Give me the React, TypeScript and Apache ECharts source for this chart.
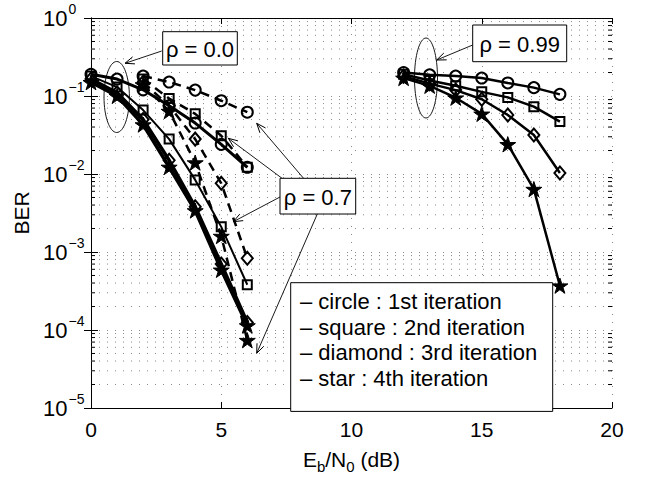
import React, { useEffect, useRef } from "react";
import * as echarts from "echarts";

// ---- data ----
const snrLow = [0, 1, 2, 3, 4, 5, 6];
const snrMid = [2, 3, 4, 5, 6];
const snrHigh = [12, 13, 14, 15, 16, 17, 18];

// rho = 0.0 (solid)
const r0Circle = [0.19, 0.165, 0.12, 0.075, 0.045, 0.024, 0.0122];
const r0Square = [0.18, 0.13, 0.066, 0.028, 0.0084, 0.0021, 0.00038];
const r0Diamond = [0.165, 0.11, 0.05, 0.015, 0.0038, 0.0007, 0.000125];
const r0Star = [0.15, 0.1, 0.043, 0.0123, 0.0034, 0.00059, 0.000114];

// rho = 0.7 (dashed)
const r7Circle = [0.18, 0.151, 0.119, 0.087, 0.062];
const r7Square = [0.165, 0.093, 0.059, 0.031, 0.0122];
const r7Diamond = [0.15, 0.075, 0.028, 0.0076, 0.00083];
const r7Star = [0.14, 0.064, 0.014, 0.0016, 0.000074];

// rho = 0.99 (solid)
const r99Circle = [0.2, 0.187, 0.18, 0.17, 0.147, 0.128, 0.105];
const r99Square = [0.19, 0.158, 0.135, 0.113, 0.096, 0.073, 0.047];
const r99Diamond = [0.18, 0.144, 0.119, 0.091, 0.057, 0.0316, 0.0103];
const r99Star = [0.17, 0.135, 0.095, 0.059, 0.024, 0.0064, 0.00037];

const xTicks = [0, 5, 10, 15, 20];
const legendLines = [
  "\u2013 circle : 1st iteration",
  "\u2013 square : 2nd iteration",
  "\u2013 diamond : 3rd iteration",
  "\u2013 star : 4th iteration",
];
const rhoLabels = ["\u03c1 = 0.0", "\u03c1 = 0.7", "\u03c1 = 0.99"];

const FONT = "'Liberation Sans', Arial, Helvetica, sans-serif";
const STAR =
  "path://M0,-10L2.245,-3.09L9.511,-3.09L3.633,1.18L5.878,8.09L0,3.82L-5.878,8.09L-3.633,1.18L-9.511,-3.09L-2.245,-3.09Z";

type Mk = "circle" | "square" | "diamond" | "star";

function makeSeries(xs: number[], ys: number[], mk: Mk, width: number, dashed: boolean) {
  let symbol: string = "circle";
  let size: any = 11;
  let fill = "rgba(0,0,0,0)";
  if (mk === "square") { symbol = "rect"; size = 9; }
  if (mk === "diamond") { symbol = "diamond"; size = [11, 13]; }
  if (mk === "star") { symbol = STAR; size = 16; fill = "#000"; }
  return {
    type: "line",
    data: xs.map((x, i) => [x, ys[i]]),
    symbol,
    symbolSize: size,
    symbolKeepAspect: true,
    showAllSymbol: true,
    lineStyle: { color: "#000", width, type: dashed ? [9, 6] : "solid" },
    itemStyle: { color: fill, borderColor: "#000", borderWidth: mk === "star" ? 1 : 2 },
    z: 5,
    silent: true,
  };
}

function arrow(x1: number, y1: number, x2: number, y2: number) {
  const a = Math.atan2(y2 - y1, x2 - x1);
  const L = 10, h = 0.38;
  const p1 = [x2 - L * Math.cos(a - h), y2 - L * Math.sin(a - h)];
  const p2 = [x2 - L * Math.cos(a + h), y2 - L * Math.sin(a + h)];
  return [
    { type: "line", shape: { x1, y1, x2, y2 }, style: { stroke: "#000", lineWidth: 0.9 }, z: 20 },
    { type: "polyline", shape: { points: [p1, [x2, y2], p2] }, style: { stroke: "#000", lineWidth: 1, fill: null }, z: 20 },
  ];
}

function box(x: number, y: number, w: number, h: number, text: string) {
  return [
    { type: "rect", shape: { x, y, width: w, height: h }, style: { fill: "#fff", stroke: "#000", lineWidth: 1 }, z: 21 },
    {
      type: "text", x: x + w / 2, y: y + h / 2 + 1,
      style: { text, font: `22px ${FONT}`, fill: "#000", align: "center", verticalAlign: "middle" }, z: 22,
    },
  ];
}

export default function App() {
  const ref = useRef<HTMLDivElement>(null);
  useEffect(() => {
    if (!ref.current) return;
    const chart = echarts.init(ref.current, undefined, { renderer: "svg" });

    const minorVals: number[][] = [];
    for (let k = -5; k <= -1; k++) for (let m = 2; m <= 9; m++) minorVals.push([0, m * Math.pow(10, k)]);

    const series: any[] = [
      {
        type: "custom",
        data: minorVals,
        encode: { x: 0, y: 1 },
        z: 1,
        silent: true,
        clip: false,
        renderItem: (params: any, api: any) => {
          const v = api.value(1);
          const p0 = api.coord([0, v]);
          const p1 = api.coord([20, v]);
          return {
            type: "group",
            children: [
              { type: "line", shape: { x1: p0[0], y1: p0[1], x2: p1[0], y2: p1[1] }, style: { stroke: "#8a8a8a", lineWidth: 1, lineDash: [1, 7] } },
              { type: "line", shape: { x1: p0[0], y1: p0[1], x2: p0[0] + 4, y2: p0[1] }, style: { stroke: "#000", lineWidth: 1 } },
              { type: "line", shape: { x1: p1[0] - 4, y1: p1[1], x2: p1[0], y2: p1[1] }, style: { stroke: "#000", lineWidth: 1 } },
            ],
          };
        },
      },
      makeSeries(snrLow, r0Circle, "circle", 3, false),
      makeSeries(snrLow, r0Square, "square", 2, false),
      makeSeries(snrLow, r0Diamond, "diamond", 3.5, false),
      makeSeries(snrLow, r0Star, "star", 3.5, false),
      makeSeries(snrMid, r7Circle, "circle", 2.5, true),
      makeSeries(snrMid, r7Square, "square", 2.5, true),
      makeSeries(snrMid, r7Diamond, "diamond", 2.5, true),
      makeSeries(snrMid, r7Star, "star", 2.5, true),
      makeSeries(snrHigh, r99Circle, "circle", 2.5, false),
      makeSeries(snrHigh, r99Square, "square", 2.5, false),
      makeSeries(snrHigh, r99Diamond, "diamond", 2.5, false),
      makeSeries(snrHigh, r99Star, "star", 2.5, false),
    ];

    const gridDot = { show: true, lineStyle: { color: "#8a8a8a", width: 1, type: [1, 7] } };

    const graphic: any[] = [
      { type: "ellipse", shape: { cx: 116.7, cy: 97, rx: 12.7, ry: 35.5 }, style: { fill: null, stroke: "#000", lineWidth: 0.9 }, z: 20 },
      { type: "ellipse", shape: { cx: 426, cy: 78, rx: 11.5, ry: 40 }, style: { fill: null, stroke: "#000", lineWidth: 0.9 }, z: 20 },
      ...arrow(161.7, 51, 125, 63.3),
      ...arrow(472.7, 45, 436.7, 60),
      ...arrow(305, 180, 256.7, 123.3),
      ...arrow(287, 182, 228.3, 138.3),
      ...arrow(280, 197, 233.3, 221.7),
      ...arrow(317.3, 214, 256.7, 353.3),
      ...box(162.7, 31.7, 74.6, 33.3, rhoLabels[0]),
      ...box(280, 178.3, 75.7, 35.7, rhoLabels[1]),
      ...box(472.7, 25, 94, 36.7, rhoLabels[2]),
      { type: "rect", shape: { x: 290.7, y: 282.7, width: 262, height: 128.7 }, style: { fill: "#fff", stroke: "#000", lineWidth: 1 }, z: 21 },
      ...legendLines.map((t, i) => ({
        type: "text", x: 300, y: 301.5 + i * 25.5,
        style: { text: t, font: `22px ${FONT}`, fill: "#000", align: "left", verticalAlign: "middle" }, z: 22,
      })),
    ];

    chart.setOption({
      animation: false,
      backgroundColor: "#fff",
      grid: { left: 91, right: 33, top: 18, bottom: 63, containLabel: false },
      xAxis: [
        {
          type: "value", min: xTicks[0], max: xTicks[xTicks.length - 1], interval: 5, position: "bottom",
          axisLine: { show: true, lineStyle: { color: "#000", width: 1 } },
          axisTick: { show: true, inside: true, length: 6, lineStyle: { color: "#000" } },
          axisLabel: { show: true, fontFamily: FONT, fontSize: 21, color: "#000", margin: 11 },
          splitLine: gridDot,
          name: "{n|E}{s|b}{n|/N}{s|0}{n| (dB)}",
          nameLocation: "middle",
          nameGap: 36,
          nameTextStyle: {
            rich: {
              n: { fontFamily: FONT, fontSize: 21, color: "#000", lineHeight: 30, verticalAlign: "middle" },
              s: { fontFamily: FONT, fontSize: 15, color: "#000", lineHeight: 15, verticalAlign: "bottom" },
            },
          },
        },
        {
          type: "value", min: xTicks[0], max: xTicks[xTicks.length - 1], interval: 5, position: "top",
          axisLine: { show: true, lineStyle: { color: "#000", width: 1 } },
          axisTick: { show: true, inside: true, length: 6, lineStyle: { color: "#000" } },
          axisLabel: { show: false },
          splitLine: { show: false },
        },
      ],
      yAxis: [
        {
          type: "log", min: 1e-5, max: 1, logBase: 10, position: "left",
          axisLine: { show: true, lineStyle: { color: "#000", width: 1 } },
          axisTick: { show: true, inside: true, length: 7, lineStyle: { color: "#000" } },
          axisLabel: {
            show: true, margin: 48, align: "left",
            formatter: (v: number) => `{b|10}{e|${String(Math.round(Math.log10(v))).replace("-", "\u2212")}}`,
            rich: {
              b: { fontFamily: FONT, fontSize: 22, color: "#000", lineHeight: 22, verticalAlign: "bottom" },
              e: { fontFamily: FONT, fontSize: 14, color: "#000", lineHeight: 14, verticalAlign: "bottom", padding: [0, 0, 13, 1] },
            },
          },
          splitLine: gridDot,
          name: "BER",
          nameLocation: "middle",
          nameGap: 57,
          nameRotate: 90,
          nameTextStyle: { fontFamily: FONT, fontSize: 21, color: "#000" },
        },
        {
          type: "log", min: 1e-5, max: 1, logBase: 10, position: "right",
          axisLine: { show: true, lineStyle: { color: "#000", width: 1 } },
          axisTick: { show: true, inside: true, length: 7, lineStyle: { color: "#000" } },
          axisLabel: { show: false },
          splitLine: { show: false },
        },
      ],
      series,
      graphic,
    });
    return () => chart.dispose();
  }, []);
  return <div ref={ref} style={{ width: 645, height: 479, position: "absolute", left: 0, top: 0 }} />;
}
